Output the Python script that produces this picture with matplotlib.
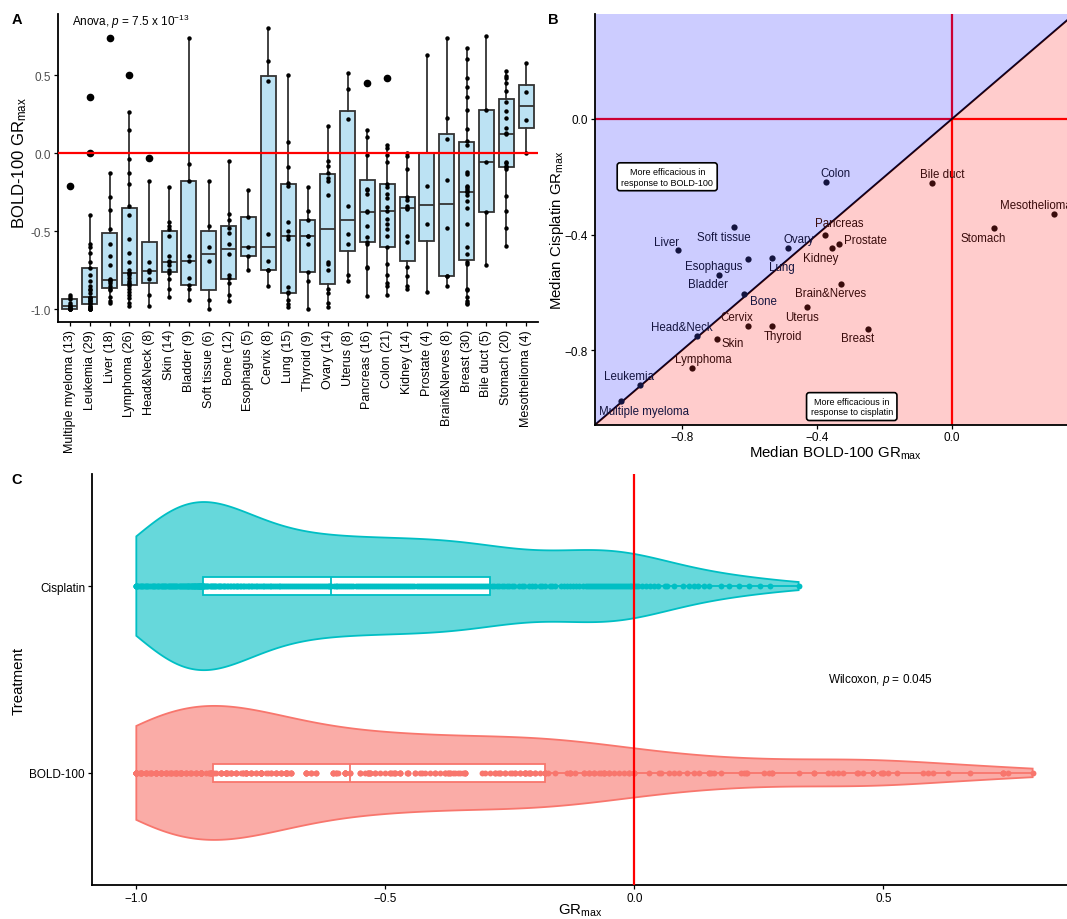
import numpy as np
import matplotlib
matplotlib.use("Agg")
import matplotlib.pyplot as plt
from matplotlib.colors import to_rgba
from matplotlib.ticker import FormatStrFormatter

plt.rcParams["font.family"] = ["Liberation Sans", "DejaVu Sans"]
plt.rcParams["mathtext.fontset"] = "custom"
plt.rcParams["mathtext.rm"] = "Liberation Sans"
plt.rcParams["mathtext.it"] = "Liberation Sans:italic"
plt.rcParams["mathtext.bf"] = "Liberation Sans:bold"

# cancer types ordered by median BOLD-100 GRmax
cancer_types = ["Multiple myeloma", "Leukemia", "Liver", "Lymphoma", "Head&Neck", "Skin",
                "Bladder", "Soft tissue", "Bone", "Esophagus", "Cervix", "Lung", "Thyroid",
                "Ovary", "Uterus", "Pancreas", "Colon", "Kidney", "Prostate", "Brain&Nerves",
                "Breast", "Bile duct", "Stomach", "Mesothelioma"]

# BOLD-100 GRmax per cell line, one list per cancer type
bold_grmax = [
    [-1.0, -1.0, -1.0, -1.0, -0.995, -0.99, -0.98, -0.975, -0.96, -0.935, -0.92, -0.91, -0.21],
    [-1.0, -1.0, -1.0, -1.0, -0.99, -0.99, -0.98, -0.97, -0.96, -0.95, -0.95, -0.94, -0.93, -0.93,
     -0.925, -0.90, -0.88, -0.87, -0.85, -0.82, -0.78, -0.735, -0.70, -0.64, -0.60, -0.58, -0.40,
     0.0, 0.36],
    [-0.96, -0.95, -0.92, -0.88, -0.87, -0.85, -0.83, -0.82, -0.815, -0.81, -0.72, -0.66, -0.58,
     -0.49, -0.365, -0.28, -0.13, 0.74],
    [-0.98, -0.96, -0.93, -0.91, -0.89, -0.87, -0.85, -0.84, -0.83, -0.82, -0.80, -0.78, -0.77,
     -0.77, -0.75, -0.70, -0.64, -0.55, -0.40, -0.34, -0.20, -0.13, -0.04, 0.15, 0.26, 0.50],
    [-0.98, -0.91, -0.81, -0.76, -0.75, -0.70, -0.18, -0.03],
    [-0.92, -0.87, -0.81, -0.77, -0.75, -0.72, -0.70, -0.695, -0.66, -0.53, -0.49, -0.47, -0.44,
     -0.22],
    [-0.94, -0.87, -0.845, -0.80, -0.69, -0.66, -0.18, -0.07, 0.74],
    [-1.0, -0.94, -0.69, -0.60, -0.47, -0.18],
    [-0.95, -0.91, -0.83, -0.80, -0.78, -0.65, -0.58, -0.51, -0.48, -0.43, -0.39, -0.05],
    [-0.75, -0.66, -0.605, -0.41, -0.24],
    [-0.85, -0.75, -0.75, -0.69, -0.52, 0.46, 0.59, 0.80],
    [-0.99, -0.97, -0.94, -0.90, -0.89, -0.86, -0.55, -0.534, -0.50, -0.44, -0.21, -0.19, -0.09,
     0.07, 0.50],
    [-1.0, -0.82, -0.76, -0.58, -0.534, -0.53, -0.427, -0.37, -0.22],
    [-0.99, -0.96, -0.90, -0.87, -0.75, -0.71, -0.70, -0.27, -0.18, -0.16, -0.13, -0.08, -0.05,
     0.175],
    [-0.82, -0.78, -0.58, -0.52, -0.34, 0.22, 0.41, 0.51],
    [-0.915, -0.74, -0.73, -0.58, -0.57, -0.54, -0.47, -0.38, -0.37, -0.26, -0.24, -0.23, -0.01,
     0.105, 0.15, 0.45],
    [-0.91, -0.855, -0.83, -0.78, -0.71, -0.605, -0.534, -0.487, -0.455, -0.42, -0.374, -0.344,
     -0.29, -0.26, -0.22, -0.20, -0.06, -0.01, 0.03, 0.053, 0.48],
    [-0.87, -0.85, -0.79, -0.73, -0.57, -0.53, -0.36, -0.35, -0.34, -0.30, -0.28, -0.10, -0.02,
     0.0],
    [-0.893, -0.457, -0.214, 0.63],
    [-0.855, -0.786, -0.786, -0.483, -0.173, 0.09, 0.226, 0.74],
    [-0.97, -0.96, -0.95, -0.92, -0.88, -0.87, -0.71, -0.70, -0.65, -0.605, -0.455, -0.353, -0.306,
     -0.27, -0.25, -0.245, -0.23, -0.22, -0.21, -0.135, -0.12, 0.05, 0.08, 0.154, 0.276, 0.36,
     0.42, 0.48, 0.60, 0.675],
    [-0.72, -0.38, -0.06, 0.276, 0.75],
    [-0.594, -0.48, -0.374, -0.273, -0.10, -0.09, -0.08, -0.066, -0.06, 0.12, 0.13, 0.16, 0.224,
     0.271, 0.33, 0.40, 0.447, 0.48, 0.496, 0.528],
    [0.0, 0.214, 0.389, 0.58],
]

# median cisplatin GRmax per cancer type (same order)
cis_median = [-0.976, -0.921, -0.452, -0.862, -0.752, -0.760, -0.540, -0.375, -0.607, -0.483,
              -0.716, -0.480, -0.716, -0.446, -0.649, -0.401, -0.219, -0.447, -0.432, -0.572,
              -0.727, -0.220, -0.377, -0.330]

# cisplatin GRmax for all cell lines
cis_grmax = [
    -1.000, -1.000, -1.000, -1.000, -0.998, -0.996, -0.993, -0.991, -0.989, -0.986,
    -0.983, -0.981, -0.978, -0.976, -0.972, -0.969, -0.967, -0.964, -0.962, -0.959,
    -0.957, -0.954, -0.951, -0.949, -0.947, -0.944, -0.942, -0.940, -0.937, -0.935,
    -0.933, -0.931, -0.928, -0.926, -0.924, -0.922, -0.920, -0.918, -0.915, -0.913,
    -0.911, -0.909, -0.907, -0.905, -0.903, -0.901, -0.899, -0.897, -0.896, -0.894,
    -0.892, -0.891, -0.889, -0.888, -0.886, -0.885, -0.884, -0.883, -0.882, -0.880,
    -0.879, -0.878, -0.877, -0.876, -0.875, -0.874, -0.873, -0.872, -0.872, -0.871,
    -0.870, -0.870, -0.869, -0.869, -0.868, -0.868, -0.867, -0.867, -0.866,
    -0.865, -0.863, -0.860, -0.858, -0.856, -0.853, -0.851, -0.849, -0.847, -0.844,
    -0.842, -0.839, -0.836, -0.834, -0.831, -0.829, -0.826, -0.823, -0.821, -0.818,
    -0.815, -0.812, -0.809, -0.806, -0.803, -0.800, -0.798, -0.795, -0.792, -0.789,
    -0.786, -0.783, -0.779, -0.776, -0.773, -0.770, -0.767, -0.763, -0.760, -0.757,
    -0.753, -0.750, -0.746, -0.743, -0.739, -0.736, -0.732, -0.729, -0.725, -0.722,
    -0.718, -0.714, -0.711, -0.707, -0.703, -0.699, -0.695, -0.692, -0.688, -0.684,
    -0.680, -0.676, -0.672, -0.668, -0.664, -0.660, -0.656, -0.652, -0.648, -0.644,
    -0.640, -0.636, -0.632, -0.628, -0.624, -0.620, -0.616, -0.613, -0.611,
    -0.609, -0.604, -0.600, -0.596, -0.592, -0.588, -0.584, -0.580, -0.576, -0.572,
    -0.568, -0.564, -0.559, -0.555, -0.551, -0.547, -0.543, -0.539, -0.535, -0.531,
    -0.527, -0.523, -0.519, -0.515, -0.511, -0.507, -0.503, -0.498, -0.494, -0.490,
    -0.486, -0.482, -0.478, -0.474, -0.470, -0.466, -0.462, -0.458, -0.454, -0.450,
    -0.446, -0.442, -0.437, -0.433, -0.429, -0.425, -0.421, -0.417, -0.413, -0.409,
    -0.405, -0.401, -0.397, -0.393, -0.389, -0.385, -0.381, -0.376, -0.372, -0.368,
    -0.364, -0.360, -0.356, -0.352, -0.348, -0.344, -0.340, -0.336, -0.332, -0.328,
    -0.324, -0.319, -0.315, -0.311, -0.307, -0.303, -0.299, -0.295, -0.291,
    -0.286, -0.281, -0.276, -0.271, -0.266, -0.261, -0.256, -0.251, -0.246, -0.241,
    -0.231, -0.226, -0.221, -0.211, -0.206, -0.200, -0.190,
    -0.185, -0.180, -0.170, -0.165, -0.159, -0.147, -0.141, -0.135,
    -0.129, -0.123, -0.117, -0.110, -0.103,
    -0.097, -0.093, -0.089, -0.085, -0.081, -0.077, -0.073, -0.069, -0.065, -0.061,
    -0.057, -0.053, -0.049, -0.045, -0.041, -0.037, -0.033, -0.029, -0.025, -0.021,
    -0.017, -0.013, -0.009, -0.006, -0.003, -0.001,
    0.004, 0.008, 0.015, 0.023, 0.031, 0.040, 0.047, 0.062, 0.065, 0.080, 0.098,
    0.110, 0.120, 0.127, 0.140, 0.150, 0.175, 0.190, 0.211, 0.230, 0.253, 0.273, 0.330,
]

# label offsets in panel B (pixels, text centre relative to point)
label_offset = {
    "Colon": (10, 9), "Bile duct": (11, 9), "Mesothelioma": (-18, 9), "Stomach": (-11, -10),
    "Pancreas": (14, 12), "Prostate": (27, 4), "Kidney": (-11, -10), "Brain&Nerves": (-11, -9),
    "Breast": (-11, -9), "Uterus": (-5, -10), "Thyroid": (11, -10), "Cervix": (-11, 9),
    "Bone": (19, -7), "Skin": (16, -4), "Head&Neck": (-15, 9), "Lymphoma": (11, 9),
    "Leukemia": (-11, 9), "Multiple myeloma": (23, -10), "Bladder": (-11, -9),
    "Esophagus": (-34, -7), "Lung": (10, -9), "Ovary": (10, 9), "Soft tissue": (-11, -10),
    "Liver": (-11, 8),
}

W, H = 1067, 920
GR = r"GR$_{\mathregular{max}}$"


def rect(l, t, r, b):
    """pixel box (left, top, right, bottom) -> figure fraction rect"""
    return [l / W, 1 - b / H, (r - l) / W, (b - t) / H]


def style_axes(ax):
    for s in ("top", "right"):
        ax.spines[s].set_visible(False)
    for s in ("left", "bottom"):
        ax.spines[s].set_linewidth(1.3)
    ax.tick_params(length=3, width=0.9, labelsize=8.5, pad=2)


def density(vals, grid):
    # gaussian kde with Silverman's rule (bw.nrd0)
    v = np.asarray(vals)
    iqr = np.subtract(*np.percentile(v, [75, 25]))
    bw = 0.9 * min(v.std(ddof=1), iqr / 1.34) * len(v) ** -0.2
    z = (grid[:, None] - v[None, :]) / bw
    return np.exp(-0.5 * z ** 2).sum(axis=1) / (len(v) * bw * np.sqrt(2 * np.pi))


fig = plt.figure(figsize=(W / 100, H / 100), dpi=100)

# ---- A: BOLD-100 GRmax by cancer type
axA = fig.add_axes(rect(58, 15, 538, 323))
pos = np.arange(1, len(cancer_types) + 1)
edge = "#333333"
axA.boxplot(bold_grmax, positions=pos, widths=0.75, patch_artist=True, showcaps=False,
            boxprops=dict(facecolor="#BCE2F3", edgecolor=edge, linewidth=1.3),
            medianprops=dict(color=edge, linewidth=1.3),
            whiskerprops=dict(color=edge, linewidth=1.3),
            flierprops=dict(marker="o", markerfacecolor="black", markeredgecolor="black",
                            markersize=4.5))
for p, vals in zip(pos, bold_grmax):
    axA.plot(np.full(len(vals), p), vals, "o", color="black", ms=3.2, mew=0, zorder=3)
axA.axhline(0, color="red", lw=1.6, zorder=4)
axA.set_xlim(0.4, len(cancer_types) + 0.6)
axA.set_ylim(-1.083, 0.891)
axA.set_yticks([-1.0, -0.5, 0.0, 0.5])
axA.yaxis.set_major_formatter(FormatStrFormatter("%.1f"))
axA.set_xticks(pos)
axA.set_xticklabels([f"{c} ({len(v)})" for c, v in zip(cancer_types, bold_grmax)],
                    rotation=90, fontsize=9)
style_axes(axA)
axA.tick_params(axis="y", labelcolor="#4d4d4d")
axA.tick_params(axis="x", labelsize=9)

fig.text(72 / W, 1 - 22 / H, r"Anova, $p$ = 7.5 x 10$^{-13}$", fontsize=8.5, va="center")
fig.text(20 / W, 1 - 163 / H, "BOLD-100 " + GR, rotation=90, fontsize=12,
         ha="center", va="center")

# ---- B: median cisplatin vs median BOLD-100
axB = fig.add_axes(rect(595, 15, 1067, 425.5))
bold_median = [np.median(v) for v in bold_grmax]
axB.axhline(0, color="red", lw=1.6, zorder=1)
axB.axvline(0, color="red", lw=1.6, zorder=1)
axB.plot([-2, 2], [-2, 2], color="black", lw=1.4, zorder=1)
axB.fill([-2, 2, -2], [-2, 2, 2], color="blue", alpha=0.2, lw=0, zorder=2)
axB.fill([-2, 2, 2], [-2, 2, -2], color="red", alpha=0.2, lw=0, zorder=2)
for name, x, y in zip(cancer_types, bold_median, cis_median):
    col = "#14143f" if y > x else "#3a0c0c"
    axB.plot(x, y, "o", color=col, ms=4.5, mew=0, zorder=3)
    dx, dy = label_offset[name]
    axB.annotate(name, (x, y), xytext=(dx * 0.72, dy * 0.72), textcoords="offset points",
                 ha="center", va="center", color=col, fontsize=8.3, zorder=4)
box_style = dict(boxstyle="round,pad=0.45,rounding_size=0.3", fc="white", ec="black", lw=1.2)
axB.text(-0.844, -0.20, "More efficacious in\nresponse to BOLD-100", fontsize=6.5,
         ha="center", va="center", linespacing=1.25, bbox=box_style, zorder=5)
axB.text(-0.297, -0.995, "More efficacious in\nresponse to cisplatin", fontsize=6.5,
         ha="center", va="center", linespacing=1.25, bbox=box_style, zorder=5)
axB.set_xlim(-1.058, 0.341)
axB.set_ylim(-1.057, 0.363)
axB.set_xticks([-0.8, -0.4, 0.0])
axB.set_yticks([-0.8, -0.4, 0.0])
style_axes(axB)
fig.text(835 / W, 1 - 453 / H, "Median BOLD-100 " + GR, fontsize=10.8, ha="center", va="center")
fig.text(557 / W, 1 - 230 / H, "Median Cisplatin " + GR, rotation=90, fontsize=10.8,
         ha="center", va="center")

# ---- C: violins of GRmax per treatment
axC = fig.add_axes(rect(92, 475, 1067, 886))
bold_all = np.concatenate([np.asarray(v) for v in bold_grmax])
groups = [("BOLD-100", bold_all, "#F8766D"), ("Cisplatin", np.asarray(cis_grmax), "#00BFC4")]
grids = [np.linspace(v.min(), v.max(), 512) for _, v, _ in groups]
dens = [density(v, g) for (_, v, _), g in zip(groups, grids)]
peak = max(d.max() for d in dens)
for k, ((name, vals, col), grid, d) in enumerate(zip(groups, grids, dens), start=1):
    hw = 0.45 * d / peak
    axC.fill(np.r_[grid, grid[::-1]], np.r_[k + hw, (k - hw)[::-1]],
             fc=to_rgba(col, 0.6), ec=col, lw=1.3, zorder=1)
    axC.boxplot([vals], positions=[k], widths=0.1, orientation="horizontal", patch_artist=True,
                showcaps=False, showfliers=False, zorder=2,
                boxprops=dict(facecolor="white", edgecolor=col, linewidth=1.3),
                medianprops=dict(color=col, linewidth=1.3),
                whiskerprops=dict(color=col, linewidth=1.3))
    axC.scatter(vals, np.full(len(vals), k), s=18, color=col, lw=0, zorder=3)
axC.axvline(0, color="red", lw=1.6, zorder=4)
axC.text(0.39, 1.5, r"Wilcoxon, $p$ = 0.045", fontsize=8.5, va="center")
axC.set_xlim(-1.089, 0.869)
axC.set_ylim(0.4, 2.6)
axC.set_xticks([-1.0, -0.5, 0.0, 0.5])
axC.set_xticklabels(["\u22121.0", "\u22120.5", "0.0", "0.5"])
axC.set_yticks([1, 2])
axC.set_yticklabels([g[0] for g in groups])
style_axes(axC)
fig.text(19 / W, 1 - 681 / H, "Treatment", rotation=90, fontsize=10.8, ha="center", va="center")
fig.text(580 / W, 1 - 911 / H, GR, fontsize=10.8, ha="center", va="center")

# panel letters
for letter, (px, py) in zip("ABC", [(17, 20), (553, 20), (17, 480)]):
    fig.text(px / W, 1 - py / H, letter, fontsize=10.5, fontweight="bold",
             ha="center", va="center")

fig.savefig("out.png", dpi=100)
plt.close(fig)
